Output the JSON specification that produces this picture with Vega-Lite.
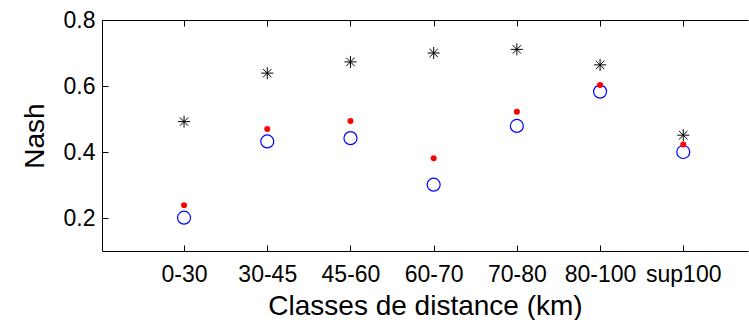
{
  "$schema": "https://vega.github.io/schema/vega-lite/v6.json",
  "width": 646,
  "height": 231,
  "autosize": {"type": "none"},
  "padding": {"left": 102, "top": 20, "right": 1, "bottom": 69},
  "background": "white",
  "config": {
    "view": {"stroke": null},
    "font": "Liberation Sans",
    "axis": {
      "labelFont": "Liberation Sans",
      "titleFont": "Liberation Sans",
      "labelColor": "black",
      "titleColor": "black",
      "domainColor": "black",
      "tickColor": "black",
      "domainWidth": 1,
      "tickWidth": 1,
      "labelFontSize": 23,
      "titleFontSize": 28,
      "titleFontWeight": "normal",
      "grid": false,
      "ticks": true
    }
  },
  "data": {
    "values": [
      {"classe": "0-30", "star": 0.492, "red": 0.239, "circle": 0.201},
      {"classe": "30-45", "star": 0.639, "red": 0.470, "circle": 0.432},
      {"classe": "45-60", "star": 0.673, "red": 0.494, "circle": 0.442},
      {"classe": "60-70", "star": 0.700, "red": 0.381, "circle": 0.301},
      {"classe": "70-80", "star": 0.711, "red": 0.522, "circle": 0.479},
      {"classe": "80-100", "star": 0.664, "red": 0.603, "circle": 0.583},
      {"classe": "sup100", "star": 0.451, "red": 0.423, "circle": 0.400}
    ]
  },
  "layer": [
    {
      "mark": {"type": "point", "shape": "circle", "filled": false, "stroke": "#0000ff", "strokeWidth": 1.2, "size": 169, "opacity": 1},
      "encoding": {
        "x": {
          "field": "classe", "type": "nominal",
          "sort": ["0-30", "30-45", "45-60", "60-70", "70-80", "80-100", "sup100"],
          "scale": {"type": "point", "padding": 0.882, "align": 0.559},
          "axis": {"orient": "bottom", "title": "Classes de distance (km)", "labelAngle": 0, "tickSize": -6, "labelPadding": 18, "titlePadding": 6}
        },
        "y": {
          "field": "circle", "type": "quantitative",
          "scale": {"domain": [0.1, 0.8], "nice": false, "zero": false},
          "axis": {"orient": "left", "title": "Nash", "values": [0.2, 0.4, 0.6, 0.8], "format": ".1f", "tickSize": -6, "labelPadding": 13, "titlePadding": 14}
        }
      }
    },
    {
      "mark": {"type": "point", "shape": "circle", "filled": true, "color": "#ff0000", "size": 36, "opacity": 1},
      "encoding": {
        "x": {"field": "classe", "type": "nominal", "sort": ["0-30", "30-45", "45-60", "60-70", "70-80", "80-100", "sup100"], "axis": null},
        "y": {"field": "red", "type": "quantitative", "axis": null}
      }
    },
    {
      "mark": {"type": "point", "shape": "M-1,0L1,0M0,-1L0,1M-0.7,-0.7L0.7,0.7M-0.7,0.7L0.7,-0.7", "filled": false, "stroke": "black", "strokeWidth": 1, "size": 144, "opacity": 1},
      "encoding": {
        "x": {
          "field": "classe", "type": "nominal",
          "sort": ["0-30", "30-45", "45-60", "60-70", "70-80", "80-100", "sup100"],
          "axis": {"orient": "top", "labels": false, "title": null, "tickSize": -6}
        },
        "y": {"field": "star", "type": "quantitative", "axis": null}
      }
    }
  ],
  "resolve": {"axis": {"x": "independent", "y": "independent"}}
}
